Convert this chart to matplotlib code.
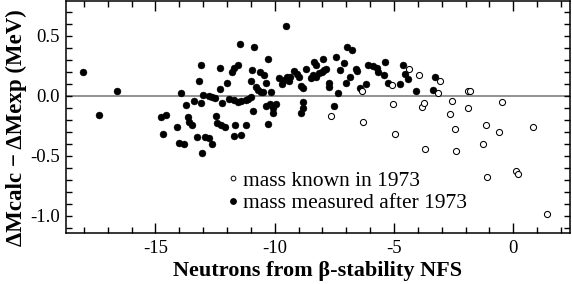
import matplotlib
matplotlib.use("Agg")
import matplotlib.pyplot as plt
from matplotlib.lines import Line2D
from matplotlib.ticker import MultipleLocator, FormatStrFormatter

plt.rcParams['font.family'] = ['Liberation Serif', 'DejaVu Serif']
plt.rcParams['axes.unicode_minus'] = False

# mass measured after 1973 (filled)
after_x = [-18.03, -17.36, -16.63,
           -14.77, -14.56, -14.70, -14.10, -14.03, -13.79,
           -13.91, -13.72, -13.63, -13.58, -13.47, -13.37,
           -13.26, -13.19, -13.07, -13.09, -12.99, -13.03,
           -12.91, -12.75, -12.75, -12.63, -12.61, -12.49,
           -12.47, -12.40, -12.26, -12.08, -12.30, -12.30,
           -12.21, -12.00, -11.91, -11.79, -11.70, -11.56,
           -11.70, -11.66, -11.70, -11.56, -11.46, -11.42,
           -11.42, -11.21, -11.21, -11.10, -11.00, -10.96,
           -11.00, -10.90, -10.86, -10.79, -10.72, -10.62,
           -10.58, -10.48, -10.44, -10.37, -10.37, -10.30,
           -10.27, -10.20, -10.16, -10.06, -10.06, -9.95,
           -9.81, -9.70, -9.60, -9.50, -9.39, -9.36, -9.53,
           -9.18, -9.08, -9.00, -8.90, -8.83, -8.90, -8.81,
           -8.83, -8.67, -8.48, -8.41, -8.34, -8.27, -8.27,
           -8.13, -8.02, -7.97, -7.92, -7.83, -7.74, -7.72,
           -7.51, -7.44, -7.33, -7.27, -7.09, -7.02, -6.99,
           -6.85, -6.74, -6.60, -6.53, -6.43, -6.18, -6.07,
           -5.90, -5.73, -5.66, -5.37, -5.41, -5.23, -4.74,
           -4.64, -4.53, -4.43, -4.08, -3.38, -3.27]
after_y = [0.20, -0.16, 0.04,
           -0.18, -0.16, -0.32, -0.26, -0.39, -0.40,
           0.02, -0.08, -0.175, -0.22, -0.24, -0.04,
           -0.34, 0.12, 0.26, -0.06, 0.01, -0.48,
           -0.34, -0.35, 0.0, -0.40, -0.01, -0.02,
           -0.17, -0.225, -0.245, -0.26, 0.23, 0.055,
           -0.06, 0.11, -0.03, 0.20, 0.23, 0.255,
           -0.035, -0.245, -0.335, -0.05, 0.43, -0.045,
           -0.33, -0.035, -0.24, -0.03, -0.013, 0.215,
           0.12, -0.125, 0.41, 0.075, 0.05, 0.20,
           0.03, 0.03, 0.17, 0.105, -0.085, 0.31,
           -0.235, -0.07, 0.035, -0.105, -0.14, -0.065,
           0.15, 0.10, 0.13, 0.16, 0.12, 0.16, 0.58,
           0.21, 0.18, 0.16, 0.08, 0.065, -0.14, -0.105,
           -0.055, 0.22, 0.145, 0.17, 0.28, 0.26, 0.16,
           0.19, 0.20, 0.305, 0.215, 0.22, 0.105, 0.075,
           -0.085, 0.325, 0.025, 0.215, 0.27, 0.11, 0.41,
           0.16, 0.38, 0.22, 0.21, 0.065, 0.10, 0.26,
           0.25, 0.23, 0.20, 0.28, 0.17, 0.11, 0.10,
           0.26, 0.18, 0.14, 0.04, 0.05, 0.16]

# mass known in 1973 (open)
known_x = [-7.63, -6.32, -6.29, -5.09, -5.06, -4.96, -4.36, -3.94, -3.83, -3.76,
           -3.70, -3.17, -3.06, -2.64, -2.57, -2.45, -2.38, -1.91, -1.80, -1.89,
           -1.27, -1.15, -1.11, -0.60, -0.47, 0.11, 0.21, 0.81, 1.41]
known_y = [-0.17, 0.04, -0.22, 0.09, -0.07, -0.32, 0.22, 0.17, -0.09, -0.06,
           -0.44, 0.025, 0.12, -0.15, -0.04, -0.28, -0.46, 0.04, 0.04, -0.10,
           -0.40, -0.24, -0.675, -0.30, -0.055, -0.63, -0.65, -0.26, -0.99]

x_ticks = [-15, -10, -5, 0]
y_ticks = [-1.0, -0.5, 0.0, 0.5]
legend_labels = ["mass known in 1973", "mass measured after 1973"]
x_label = "Neutrons from β-stability NFS"
y_label = "ΔMcalc − ΔMexp (MeV)"

fig = plt.figure(figsize=(5.72, 2.84), dpi=100)
ax = fig.add_axes([0.1154, 0.1785, 0.8811, 0.8195])

ax.axhline(0, color='#7f7f7f', lw=1.2, zorder=1)
ax.plot(after_x, after_y, linestyle='none', marker='o', ms=5.0,
        mfc='black', mec='black', mew=0.3, zorder=3)
ax.plot(known_x, known_y, linestyle='none', marker='o', ms=4.4,
        mfc='white', mec='black', mew=0.75, zorder=4)

ax.set_xlim(-18.75, 2.38)
ax.set_ylim(-1.147, 0.795)
ax.set_xticks(x_ticks)
ax.set_yticks(y_ticks)
ax.xaxis.set_minor_locator(MultipleLocator(1))
ax.yaxis.set_minor_locator(MultipleLocator(0.1))
ax.xaxis.set_major_formatter(FormatStrFormatter('%d'))
ax.yaxis.set_major_formatter(FormatStrFormatter('%.1f'))

ax.tick_params(axis='both', which='both', direction='in', top=True, right=True,
               width=1.0, labelsize=13.5, colors='black')
ax.tick_params(axis='x', which='major', length=7.5, pad=5.0)
ax.tick_params(axis='x', which='minor', length=4)
ax.tick_params(axis='y', which='major', length=4.5, pad=4.5)
ax.tick_params(axis='y', which='minor', length=4.5)
for s in ax.spines.values():
    s.set_linewidth(1.1)

ax.set_xlabel(x_label, fontsize=16, fontweight='bold')
ax.xaxis.label.set_va('baseline')
ax.xaxis.set_label_coords(0.5, -0.182)
ax.set_ylabel(y_label, fontsize=16.5, fontweight='bold')
ax.yaxis.label.set_va('center')
ax.yaxis.set_label_coords(-0.099, 0.4545)

handles = [Line2D([], [], linestyle='none', marker='o', ms=3.4, mfc='white', mec='black', mew=0.7),
           Line2D([], [], linestyle='none', marker='o', ms=3.9, mfc='black', mec='black')]
ax.legend(handles, legend_labels, loc='upper left', bbox_to_anchor=(0.323, 0.27),
          frameon=False, fontsize=15.5, handlelength=0.4, handletextpad=0.25,
          labelspacing=0.12, borderpad=0, borderaxespad=0)

fig.savefig("out.png", dpi=100)
